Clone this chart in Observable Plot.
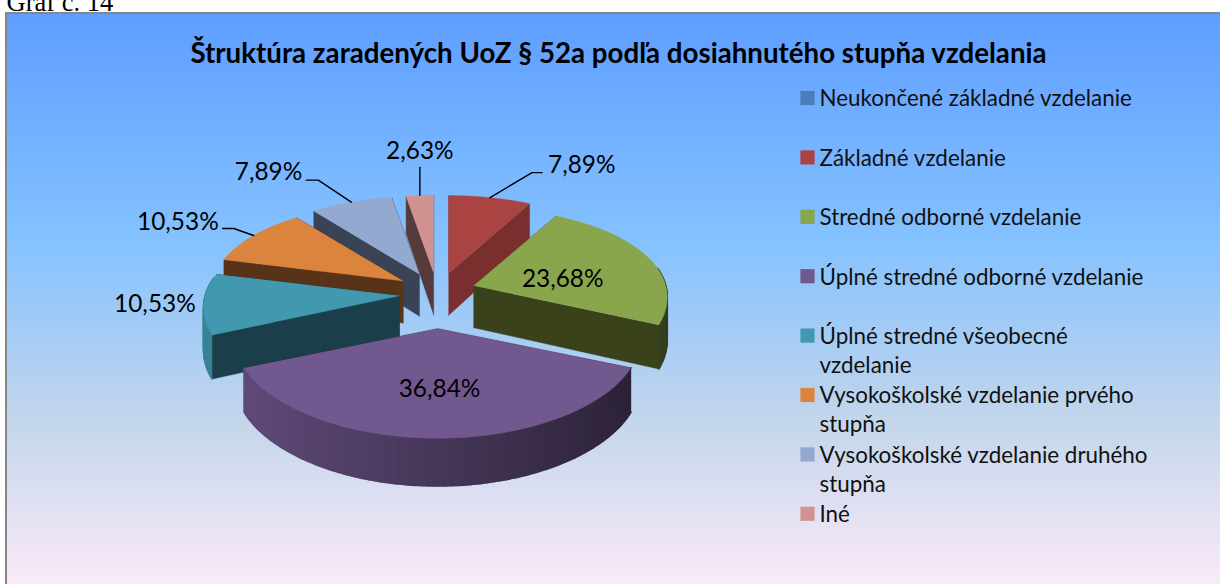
<!DOCTYPE html>
<html><head><meta charset="utf-8">
<script src="https://cdn.jsdelivr.net/npm/d3@7"></script>
<script src="https://cdn.jsdelivr.net/npm/@observablehq/plot@0.6"></script>
<style>
html,body{margin:0;padding:0;background:#fff;overflow:hidden;width:1220px;height:584px}
#frame{position:absolute;left:5px;top:12px;width:1225px;height:584px;border:2px solid #868686;
background:linear-gradient(180deg,#5E9EFF 0%,#85C2FF 39%,#C4D6EB 70%,#FFEBFA 100%)}
#chart{position:absolute;left:0;top:0}
svg{background:transparent!important}
</style></head><body>
<div id="frame"></div><div id="chart"></div>
<script>
const caption = "Graf č. 14";
const title = "Štruktúra zaradených UoZ § 52a podľa dosiahnutého stupňa vzdelania";
const categories = ["Neukončené základné vzdelanie","Základné vzdelanie","Stredné odborné vzdelanie","Úplné stredné odborné vzdelanie","Úplné stredné všeobecné\nvzdelanie","Vysokoškolské vzdelanie prvého\nstupňa","Vysokoškolské vzdelanie druhého\nstupňa","Iné"];
const values = [0,7.89,23.68,36.84,10.53,10.53,7.89,2.63];
const colors = ["#4a7ebb","#a94442","#8aa64c","#71588f","#4198af","#db843d","#93a9cf","#d19392"];
const cutColors = ["#2c4c70","#7a2f2e","#39421b","#33283f","#1a3f4b","#583317","#3a4255","#573b3b"];

// perspective pie geometry
const W=1220,H=584, CX=437,CY=293, RX=194,RY=91,PX=.125,P=.17, EX=38, THICK=42, XPL=.25;
const total=d3.sum(values), TAU=Math.PI*2;
let acc=0;
const slices=values.map((v,i)=>{const a0=acc/total*TAU;acc+=v;const a1=acc/total*TAU;return{i,v,a0,a1,mid:(a0+a1)/2}});
slices.forEach(s=>{const c=Math.cos(s.mid);
  s.ax=CX+EX*(1+.3*Math.max(0,c-.3))*Math.sin(s.mid);
  s.ay=CY-26*c/(1+.26*c);
  s.pt=(th,r=1)=>{const u=r*Math.sin(th),v=r*Math.cos(th);return[s.ax+RX*u/(1+PX*(v+XPL*c)),s.ay-RY*v/(1+P*v)]};
});
const thick=v=>THICK/(1+.12*v);
const faces=[];
let fid=0;
const addFace=(pts,c,w)=>{const id=fid++;pts.forEach(p=>faces.push({id,x:p[0],y:p[1],c,w}))};
const shade=(col,f)=>{const r=d3.rgb(col);return d3.rgb(r.r*f,r.g*f,r.b*f).formatHex()};
const order=[1,7,6,5,4,2,3];
for(const i of order){
  const s=slices[i];
  const A=[s.ax,s.ay],dn=(p,v)=>[p[0],p[1]+thick(v)];
  for(const a of (Math.cos(s.a0)>Math.cos(s.a1)?[s.a0,s.a1]:[s.a1,s.a0])){
    const p=s.pt(a);
    addFace([A,p,dn(p,Math.cos(a)),dn(A,0)],cutColors[i],.4);
  }
  const n=Math.ceil((s.a1-s.a0)/0.015);
  for(let k=0;k<n;k++){
    const t0=s.a0+(s.a1-s.a0)*k/n,t1=s.a0+(s.a1-s.a0)*(k+1)/n;
    if(Math.cos((t0+t1)/2)>.2) continue;
    const p0=s.pt(t0),p1=s.pt(t1);
    const f=.62-.25*Math.sin((t0+t1)/2);
    addFace([p0,p1,dn(p1,Math.cos(t1)),dn(p0,Math.cos(t0))],shade(colors[i],f),1.6);
  }
  const rim=d3.range(n+1).map(k=>s.pt(s.a0+(s.a1-s.a0)*k/n));
  addFace([A,...rim],colors[i],.4);
}

const fmt=v=>v.toFixed(2).replace(".",",")+"%";
// label placement relative to each slice (elbow offset, text offset, anchor)
const outside={1:{e:[42,-25],h:10,anchor:"start",t:[6,-7]},
               6:{e:[-33,-22],h:-12,anchor:"end",t:[-4,-8]},
               5:{e:[-20,-7],h:-11,anchor:"end",t:[-4,-6]},
               7:{e:[0,-28],h:0,anchor:"middle",t:[0,-16]},
               4:{e:null,anchor:"end",t:[-8,1]}};
const inside={2:{r:.5,dy:8},3:{r:.5,dy:11,dx:2}};
const labels=[],leaders=[];
for(const s of slices){
  if(!s.v) continue;
  if(inside[s.i]){const p=s.pt(s.mid,inside[s.i].r);labels.push({x:p[0]+(inside[s.i].dx||0),y:p[1]+inside[s.i].dy,t:fmt(s.v),a:"middle"});continue}
  const o=outside[s.i],p=s.pt(s.mid);
  if(o.e){
    const e=[p[0]+o.e[0],p[1]+o.e[1]],h=[e[0]+o.h,e[1]];
    [p,e,h].forEach(q=>leaders.push({id:s.i,x:q[0],y:q[1]}));
    labels.push({x:h[0]+o.t[0],y:h[1]+o.t[1],t:fmt(s.v),a:o.anchor});
  } else labels.push({x:p[0]+o.t[0],y:p[1]+o.t[1],t:fmt(s.v),a:o.anchor});
}
const FONT="Lato";
const legend=categories.map((c,i)=>({c,color:colors[i],y:97.5+i*59.4}));
const labelMark=a=>Plot.text(labels.filter(d=>d.a===a),{x:"x",y:"y",text:"t",textAnchor:a,fontSize:24.4,fill:"#000"});

const plot=Plot.plot({
  width:W,height:H,margin:0,
  x:{domain:[0,W],range:[0,W],axis:null},
  y:{domain:[0,H],range:[0,H],axis:null},
  color:{type:"identity"},
  style:{fontFamily:FONT,background:"transparent"},
  marks:[
    Plot.text([caption],{x:()=>6,y:()=>8,text:d=>d,textAnchor:"start",lineAnchor:"bottom",dy:2,fontFamily:"Liberation Serif",fontSize:26.5,fill:"#000"}),
    Plot.text([title],{x:()=>618,y:()=>54,text:d=>d,fontWeight:"bold",fontSize:27.7,fill:"#000"}),
    Plot.line(faces,{x:"x",y:"y",z:"id",fill:"c",stroke:"c",strokeWidth:"w"}),
    Plot.line(leaders,{x:"x",y:"y",z:"id",stroke:"#000",strokeWidth:1.4}),
    labelMark("start"),labelMark("middle"),labelMark("end"),
    Plot.dot(legend,{x:()=>807,y:"y",symbol:"square",r:8,fill:"color"}),
    Plot.text(legend,{x:()=>819,y:d=>d.y-12.3,text:"c",textAnchor:"start",lineAnchor:"top",lineHeight:1.3,fontSize:22.4,fill:"#111"})
  ]
});
document.getElementById("chart").appendChild(plot);
</script></body></html>
